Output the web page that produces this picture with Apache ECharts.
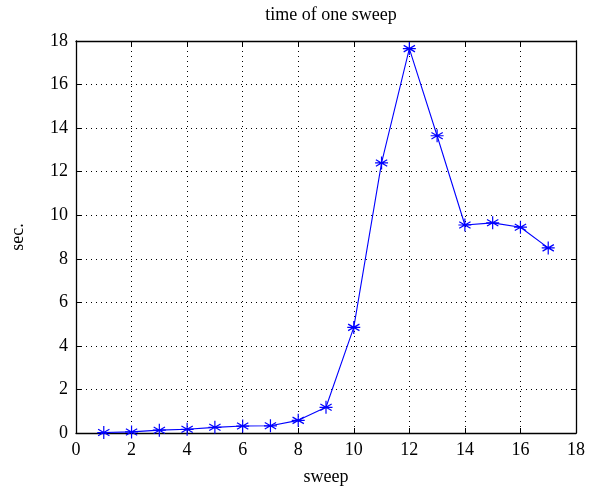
<!DOCTYPE html>
<html><head><meta charset="utf-8">
<script src="https://cdn.jsdelivr.net/npm/echarts@6/dist/echarts.min.js"></script>
<style>html,body{margin:0;padding:0;background:#fff}#c{width:611px;height:491px}</style>
</head><body><div id="c"></div>
<script>
const sweeps = [1,2,3,4,5,6,7,8,9,10,11,12,13,14,15,16,17];
const seconds = [0.02,0.05,0.13,0.17,0.26,0.32,0.33,0.58,1.18,4.85,12.4,17.65,13.65,9.55,9.65,9.45,8.5];
const titleText = 'time of one sweep';
const xName = 'sweep';
const yName = 'sec.';
const font = 'Liberation Serif';
const chart = echarts.init(document.getElementById('c'), null, {renderer:'canvas'});
const gridLine = {show:true, lineStyle:{color:'#000', type:[1,4], width:1}};
const axisLine = {show:true, onZero:false, lineStyle:{color:'#000', width:1.3}};
const tick = {show:true, inside:true, length:5, lineStyle:{color:'#000'}};
chart.setOption({
  animation:false,
  title:{text:titleText, left:326, top:1, textAlign:'center',
    textStyle:{fontFamily:font, fontSize:18, fontWeight:'normal', color:'#000'}},
  grid:{left:76, right:35, top:41, bottom:58},
  xAxis:[
    {type:'value', min:0, max:18, interval:2, position:'bottom',
     name:xName, nameLocation:'middle', nameGap:35,
     nameTextStyle:{fontFamily:font, fontSize:18, color:'#000'},
     axisLine, axisTick:tick, splitLine:gridLine,
     axisLabel:{fontFamily:font, fontSize:18, color:'#000', margin:8}},
    {type:'value', min:0, max:18, interval:2, position:'top',
     axisLine, axisTick:tick, splitLine:{show:false}, axisLabel:{show:false}}
  ],
  yAxis:[
    {type:'value', min:0, max:18, interval:2, position:'left',
     name:yName, nameLocation:'middle', nameGap:49, nameRotate:90,
     nameTextStyle:{fontFamily:font, fontSize:18, color:'#000'},
     axisLine, axisTick:tick, splitLine:gridLine,
     axisLabel:{fontFamily:font, fontSize:18, color:'#000', margin:8}},
    {type:'value', min:0, max:18, interval:2, position:'right',
     axisLine, axisTick:tick, splitLine:{show:false}, axisLabel:{show:false}}
  ],
  series:[{
    type:'line',
    data: sweeps.map((s,i)=>[s, seconds[i]]),
    symbol:'path://M0,-1L0,1M-0.87,-0.5L0.87,0.5M-0.87,0.5L0.87,-0.5M-1,0L1,0',
    symbolSize:13,
    itemStyle:{color:'none', borderColor:'#0000ff', borderWidth:1.2},
    lineStyle:{color:'#0000ff', width:1.1}
  }]
});
</script></body></html>
